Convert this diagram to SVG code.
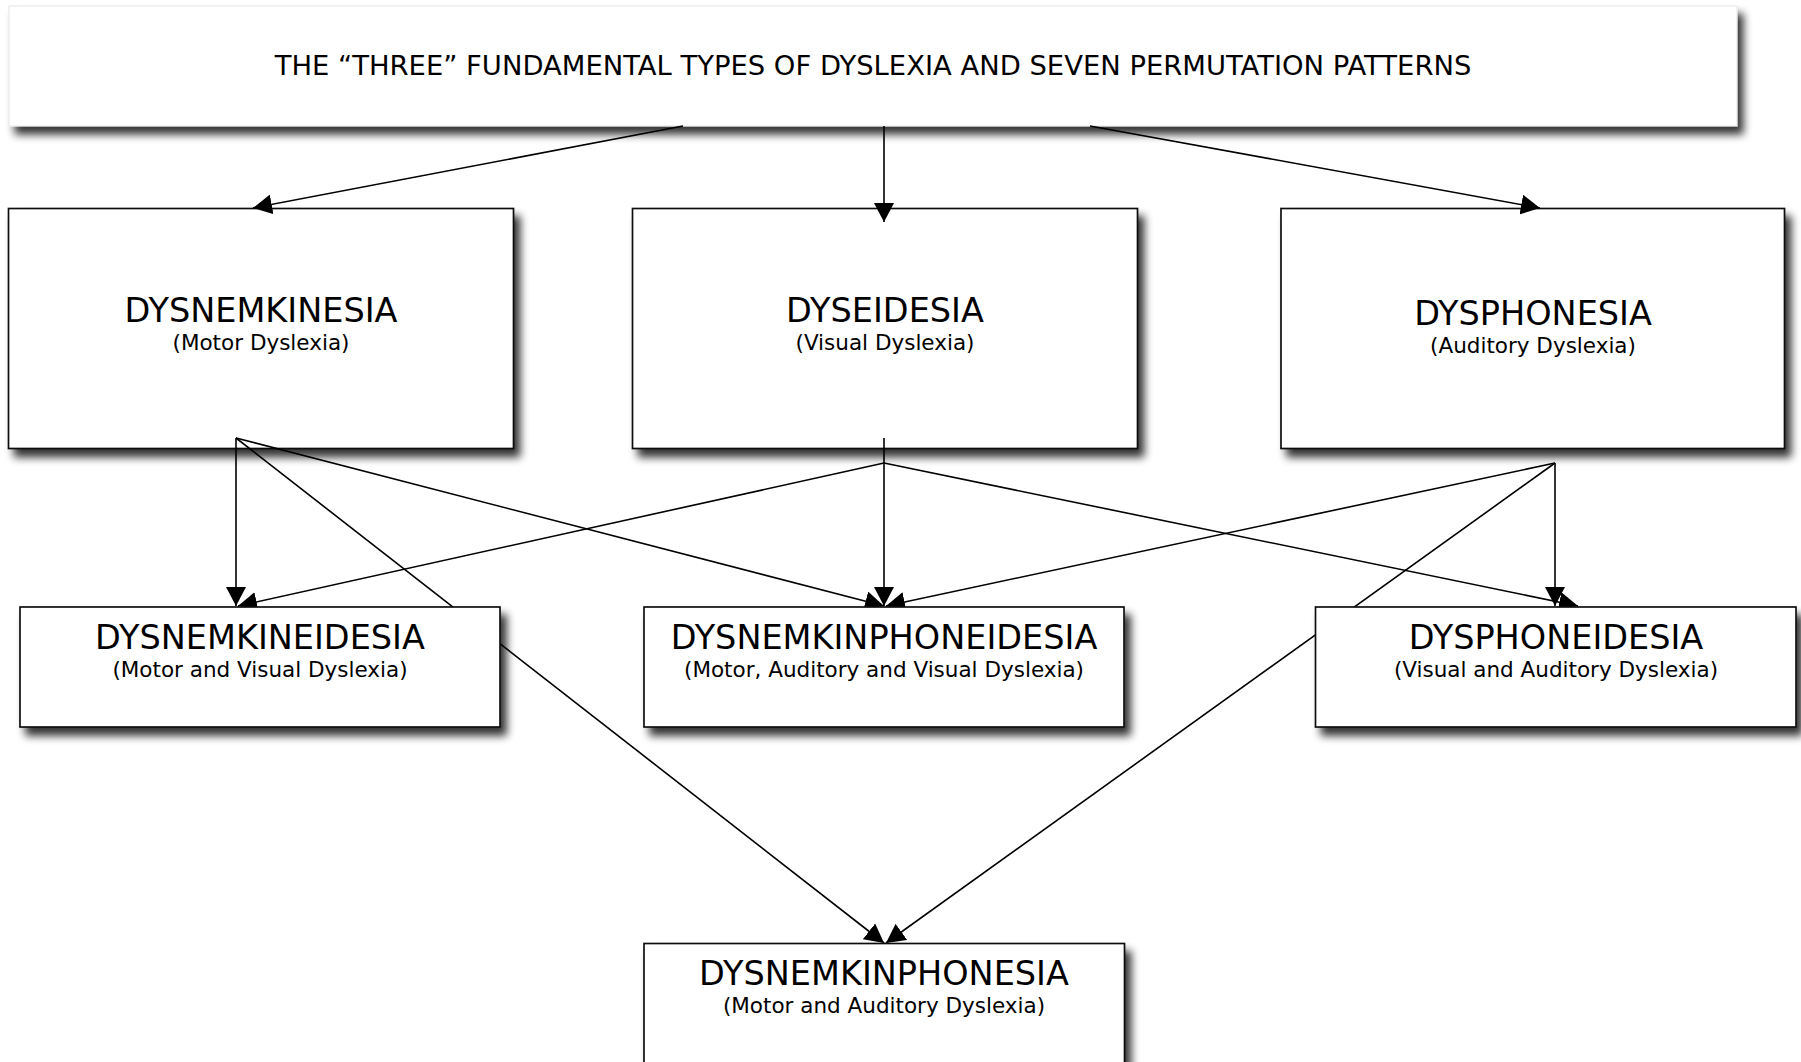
<svg xmlns="http://www.w3.org/2000/svg" width="1801" height="1062" viewBox="0 0 1801 1062">
  <defs>
    <filter id="shadow" x="-5%" y="-10%" width="115%" height="130%">
      <feGaussianBlur in="SourceAlpha" stdDeviation="4.5"/>
      <feOffset dx="6" dy="8" result="blur"/>
      <feComponentTransfer>
        <feFuncA type="linear" slope="0.8"/>
      </feComponentTransfer>
      <feMerge>
        <feMergeNode/>
        <feMergeNode in="SourceGraphic"/>
      </feMerge>
    </filter>
    <marker id="arrow" markerUnits="userSpaceOnUse" viewBox="0 0 19 20" markerWidth="19" markerHeight="20" refX="19" refY="10" orient="auto">
      <path d="M0,0 L19,10 L0,20 Z" fill="#000"/>
    </marker>
    <style>
      .box { fill: #fff; stroke: #111; stroke-width: 1.7; filter: url(#shadow); }
      .title-box { fill: #fff; stroke: #e6e6e6; stroke-width: 1; filter: url(#shadow); }
      text { font-family: "DejaVu Sans", Verdana, sans-serif; fill: #000; text-anchor: middle; }
      .title { font-size: 27.4px; }
      .name { font-size: 33.5px; }
      .sub { font-size: 21.5px; }
      .link { fill: none; stroke: #000; stroke-width: 1.6; }
      .arrow { marker-end: url(#arrow); }
    </style>
  </defs>

  <rect width="1801" height="1062" fill="#fff"/>

  <!-- heading -->
  <g id="title">
    <rect class="title-box" x="9" y="6" width="1728" height="120"/>
    <text class="title" x="873" y="75">THE “THREE” FUNDAMENTAL TYPES OF DYSLEXIA AND SEVEN PERMUTATION PATTERNS</text>
  </g>

  <!-- the three fundamental types -->
  <g id="dysnemkinesia">
    <rect class="box" x="8.5" y="208.5" width="505" height="240"/>
    <text class="name" x="261" y="322">DYSNEMKINESIA</text>
    <text class="sub" x="261" y="350">(Motor Dyslexia)</text>
  </g>
  <g id="dyseidesia">
    <rect class="box" x="632.5" y="208.5" width="505" height="240"/>
    <text class="name" x="885" y="322">DYSEIDESIA</text>
    <text class="sub" x="885" y="350">(Visual Dyslexia)</text>
  </g>
  <g id="dysphonesia">
    <rect class="box" x="1281" y="208.5" width="503.5" height="240"/>
    <text class="name" x="1533" y="325">DYSPHONESIA</text>
    <text class="sub" x="1533" y="353">(Auditory Dyslexia)</text>
  </g>

  <!-- connectors -->
  <g id="connectors">
    <line class="link arrow" x1="683" y1="126" x2="253" y2="208"/>
    <line class="link arrow" x1="884" y1="126" x2="884" y2="222"/>
    <line class="link arrow" x1="1090" y1="126" x2="1540" y2="208"/>

    <line class="link arrow" x1="236" y1="438" x2="236" y2="606"/>
    <line class="link arrow" x1="236" y1="438" x2="884" y2="943"/>
    <line class="link arrow" x1="236" y1="438" x2="884" y2="606"/>

    <line class="link arrow" x1="884" y1="438" x2="884" y2="606"/>
    <line class="link arrow" x1="884" y1="463" x2="238" y2="606"/>
    <line class="link arrow" x1="884" y1="463" x2="1578" y2="606"/>

    <line class="link arrow" x1="1555" y1="463" x2="1555" y2="606"/>
    <line class="link arrow" x1="1555" y1="463" x2="886" y2="606"/>
    <line class="link arrow" x1="1555" y1="463" x2="886" y2="943"/>
  </g>

  <!-- permutation patterns -->
  <g id="dysnemkineidesia">
    <rect class="box" x="20" y="607" width="480" height="120"/>
    <text class="name" x="260" y="649">DYSNEMKINEIDESIA</text>
    <text class="sub" x="260" y="677">(Motor and Visual Dyslexia)</text>
  </g>
  <g id="dysnemkinphoneidesia">
    <rect class="box" x="644" y="607" width="480" height="120"/>
    <text class="name" x="884" y="649">DYSNEMKINPHONEIDESIA</text>
    <text class="sub" x="884" y="677">(Motor, Auditory and Visual Dyslexia)</text>
  </g>
  <g id="dysphoneidesia">
    <rect class="box" x="1315.5" y="607" width="480.5" height="120"/>
    <text class="name" x="1556" y="649">DYSPHONEIDESIA</text>
    <text class="sub" x="1556" y="677">(Visual and Auditory Dyslexia)</text>
  </g>
  <g id="dysnemkinphonesia">
    <rect class="box" x="644" y="943.5" width="480.5" height="160"/>
    <text class="name" x="884" y="985">DYSNEMKINPHONESIA</text>
    <text class="sub" x="884" y="1013">(Motor and Auditory Dyslexia)</text>
  </g>
</svg>
